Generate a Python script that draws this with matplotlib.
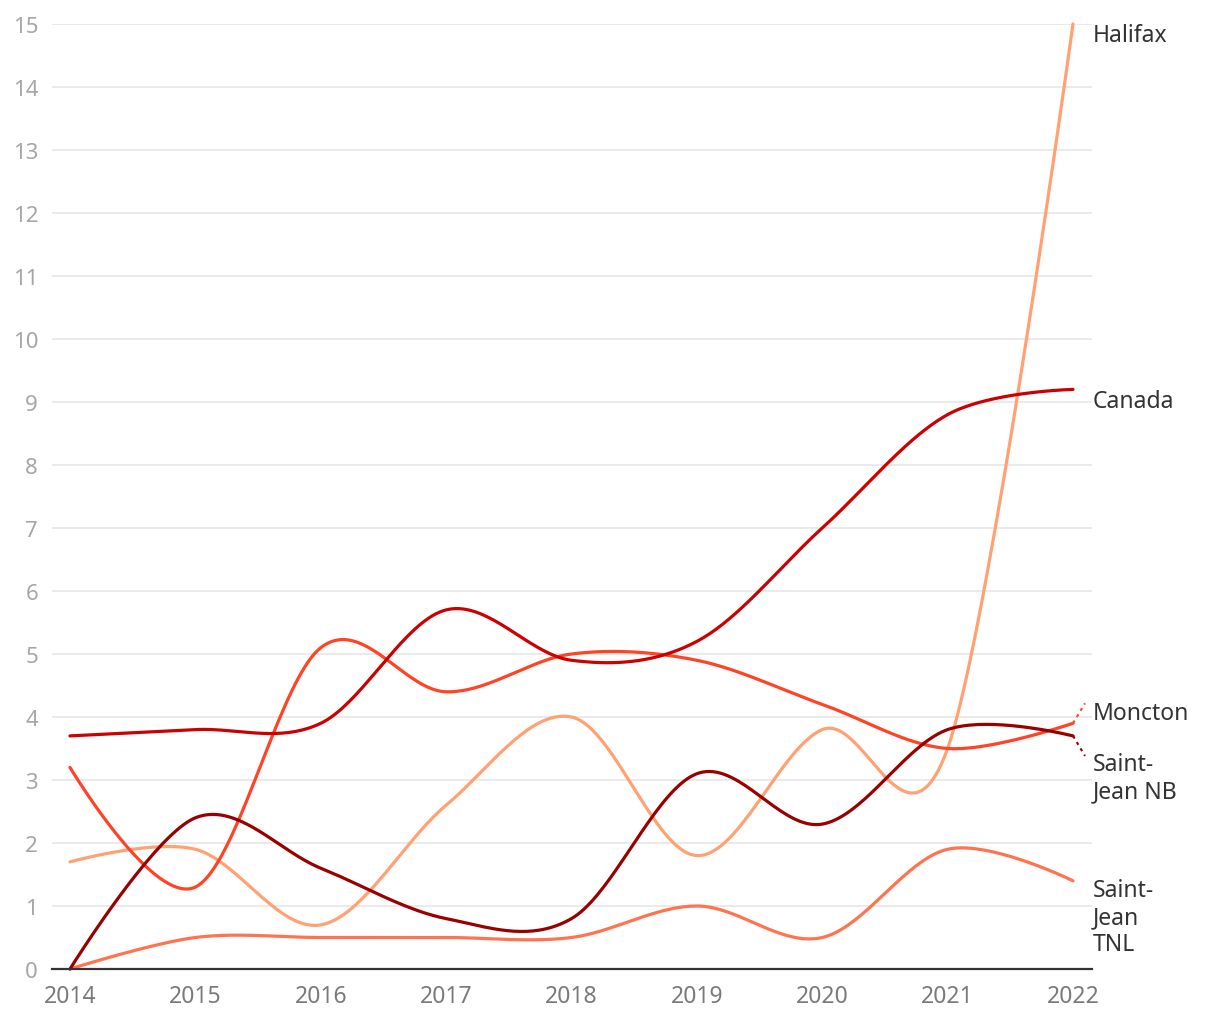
import numpy as np
import matplotlib
matplotlib.use("Agg")
import matplotlib.pyplot as plt

plt.rcParams['font.family'] = ['Noto Sans', 'DejaVu Sans']

years = [2014, 2015, 2016, 2017, 2018, 2019, 2020, 2021, 2022]

halifax = [1.7, 1.9, 0.7, 2.6, 4.0, 1.8, 3.8, 3.5, 15.0]
canada = [3.7, 3.8, 3.9, 5.7, 4.9, 5.2, 7.0, 8.8, 9.2]
moncton = [3.2, 1.3, 5.1, 4.4, 5.0, 4.9, 4.2, 3.5, 3.9]
saint_jean_nb = [0.0, 2.4, 1.6, 0.8, 0.8, 3.1, 2.3, 3.8, 3.7]
saint_jean_tnl = [0.0, 0.5, 0.5, 0.5, 0.5, 1.0, 0.5, 1.9, 1.4]

series = [
    ("Halifax", halifax, "#ffa173"),
    ("Saint-\nJean\nTNL", saint_jean_tnl, "#ff7350"),
    ("Moncton", moncton, "#ff4326"),
    ("Canada", canada, "#cc0000"),
    ("Saint-\nJean NB", saint_jean_nb, "#990000"),
]

# where the end labels sit (first line centre, data units)
label_y = {"Halifax": 14.79, "Canada": 8.99, "Moncton": 4.03,
           "Saint-\nJean NB": 3.22, "Saint-\nJean\nTNL": 1.22}

SX, SY = 125.4, 63.0  # rough px per unit


def cardinal(xs, ys, n=40):
    # cardinal spline, tension 0 (same as a uniform catmull-rom, ends clamped)
    pts = np.column_stack([xs, ys]).astype(float)
    outx, outy = [], []
    k = 1.0 / 6.0
    t = np.linspace(0, 1, n)[:, None]
    for i in range(len(pts) - 1):
        p1, p2 = pts[i], pts[i + 1]
        c1 = p1 + k * (p2 - pts[i - 1]) if i > 0 else p1
        c2 = p2 - k * (pts[i + 2] - p1) if i + 2 < len(pts) else p2
        bez = ((1 - t) ** 3) * p1 + 3 * ((1 - t) ** 2) * t * c1 + 3 * (1 - t) * t ** 2 * c2 + t ** 3 * p2
        outx.extend(bez[:, 0])
        outy.extend(bez[:, 1])
    return np.array(outx), np.array(outy)


fig = plt.figure(figsize=(12.2, 10.2), dpi=100)
ax = fig.add_axes([52 / 1220, 50 / 1020, 1040 / 1220, 945 / 1020])

for name, vals, col in series:
    sx, sy = cardinal(years, vals)
    ax.plot(sx, sy, color=col, lw=2.3, solid_capstyle='round', clip_on=False, zorder=3)

ax.set_xlim(2014 - 18 / SX, 2022 + 19 / SX)
ax.set_ylim(0, 15)

ax.set_yticks(range(0, 16))
ax.set_xticks(years)
ax.grid(axis='y', color='#e6e6e6', lw=1.2, zorder=0)
ax.tick_params(axis='y', length=0, pad=10, labelsize=16, labelcolor='#a6a6a6')
ax.tick_params(axis='x', length=0, pad=11, labelsize=16.5, labelcolor='#7a7a7a')
for s in ['top', 'right', 'left']:
    ax.spines[s].set_visible(False)
ax.spines['bottom'].set_color('#333333')
ax.spines['bottom'].set_linewidth(1.6)
ax.spines['bottom'].set_zorder(4)

# end labels
line_h = 28 / SY
lx = 2022 + 20 / SX
for name, vals, col in series:
    y0 = label_y[name]
    ax.text(lx, y0 + 0.5 * line_h, name, ha='left', va='top', fontsize=16.5,
            color='#333333', linespacing=1.17, clip_on=False)

# dotted leaders for the two crowded labels
ax.plot([2022, 2022 + 12 / SX], [moncton[-1], moncton[-1] + 20 / SY],
        color="#ff4326", lw=1.5, ls=(0, (1.5, 2)), clip_on=False)
ax.plot([2022, 2022 + 12 / SX], [saint_jean_nb[-1], saint_jean_nb[-1] - 20 / SY],
        color="#990000", lw=1.5, ls=(0, (1.5, 2)), clip_on=False)

fig.savefig("out.png", dpi=100)
